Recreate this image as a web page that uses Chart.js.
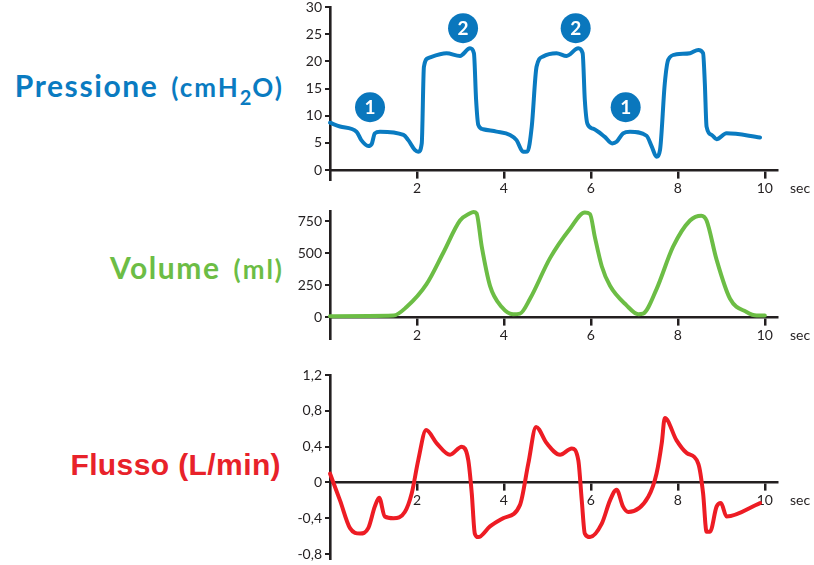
<!DOCTYPE html>
<html>
<head>
<meta charset="utf-8">
<script src="https://cdn.jsdelivr.net/npm/chart.js@4.4.0/dist/chart.umd.min.js"></script>
<style>
  html, body { margin:0; padding:0; background:#fff; }
  #wrap { position:relative; width:814px; height:565px; overflow:hidden; background:#fff; }
  canvas { position:absolute; left:0; }
  .ttl { position:absolute; white-space:nowrap; font-weight:700; }
  .lato { font-family:Lato, "Open Sans", sans-serif; font-size:30px; line-height:30px; right:530px; }
  .sm { font-size:26px; letter-spacing:2px; margin-left:4px; }
  .sub { font-size:20px; position:relative; top:8px; letter-spacing:1px; }
  .ar { font-family:"Liberation Sans", Arial, sans-serif; font-size:30px; line-height:30px; right:533px; letter-spacing:0.4px; }
</style>
</head>
<body>
<div id="wrap">
  <div class="ttl lato" style="top:70px;color:#0a7bc1;letter-spacing:1.6px">Pressione <span class="sm">(cmH<span class="sub">2</span>O)</span></div>
  <div class="ttl lato" style="top:252px;color:#6cbd45;letter-spacing:1.6px">Volume <span class="sm">(ml)</span></div>
  <div class="ttl ar" style="top:450px;color:#e8222a">Flusso (L/min)</div>
  <canvas id="c1" width="814" height="210" style="top:-10px"></canvas>
  <canvas id="c2" width="814" height="150" style="top:200px"></canvas>
  <canvas id="c3" width="814" height="210" style="top:360px"></canvas>
</div>
<script>
// ---------- data ----------
const xTicks = [2, 4, 6, 8, 10];
const xLabels = ['2', '4', '6', '8', '10'];
const xUnit = 'sec';

const pressTicks = [0, 5, 10, 15, 20, 25, 30];
const pressLabels = ['0', '5', '10', '15', '20', '25', '30'];
const pressT = [0,0.23,0.61,0.72,0.88,0.96,1.03,1.15,1.69,1.8,1.95,2.03,2.11,2.16,2.26,2.68,2.99,3.22,3.31,3.36,3.41,3.52,3.83,4.14,4.29,4.44,4.54,4.64,4.75,4.9,5.21,5.44,5.71,5.81,5.86,5.92,6.05,6.32,6.49,6.59,6.74,6.9,7.28,7.4,7.51,7.59,7.7,7.78,7.97,8.28,8.47,8.58,8.62,8.66,8.78,8.89,9.12,9.89];
const pressV = [8.7,8.0,7.06,5.5,4.42,4.8,6.75,7.06,6.45,5.5,3.7,3.37,4.9,19.0,20.6,21.5,21.0,22.4,21.5,12.9,8.3,7.5,7.06,6.45,5.5,3.37,3.4,8.0,19.0,20.9,21.5,21.0,22.4,21.5,12.9,8.5,7.6,6.1,4.9,5.2,6.75,7.06,6.3,4.3,2.45,3.7,16.0,20.3,21.3,21.5,22.1,21.5,16.0,8.0,6.45,5.65,6.75,6.0];
const markerT = [0.92, 3.06, 5.65, 6.80];
const markerV = [11.55, 26.1, 26.1, 11.55];
const markerLabels = ['1', '2', '2', '1'];

const volTicks = [0, 250, 500, 750];
const volLabels = ['0', '250', '500', '750'];
const volT = [0,1.46,1.76,2.22,2.6,2.99,3.22,3.3,3.37,3.49,3.68,3.95,4.21,4.37,4.6,5.06,5.52,5.86,5.98,6.09,6.25,6.44,6.82,7.09,7.2,7.51,7.89,8.28,8.54,8.66,8.89,9.2,9.58,9.81,10.0];
const volV = [10,15,81,259,500,755,812,822,810,551,246,81,25,30,145,462,691,818,805,628,399,246,94,25,30,221,551,755,793,755,450,145,43,15,15];

const flowTicks = [-0.8, -0.4, 0, 0.4, 0.8, 1.2];
const flowLabels = ['-0,8', '-0,4', '0', '0,4', '0,8', '1,2'];
const flowT = [0,0.23,0.46,0.69,0.88,1.03,1.13,1.26,1.46,1.72,1.88,2.03,2.21,2.45,2.76,3.03,3.18,3.26,3.33,3.41,3.68,3.98,4.37,4.56,4.74,4.98,5.29,5.56,5.71,5.79,5.86,5.98,6.25,6.44,6.59,6.74,6.86,7.32,7.51,7.63,7.7,7.97,8.2,8.47,8.58,8.66,8.74,8.89,8.99,9.12,9.89];
const flowV = [0.10,-0.20,-0.51,-0.57,-0.51,-0.27,-0.17,-0.38,-0.40,-0.33,-0.12,0.25,0.585,0.44,0.31,0.40,0.25,-0.12,-0.57,-0.61,-0.49,-0.40,-0.25,0.21,0.62,0.44,0.31,0.38,0.25,-0.20,-0.57,-0.61,-0.46,-0.20,-0.08,-0.27,-0.33,-0.16,0.10,0.44,0.72,0.47,0.33,0.21,-0.12,-0.55,-0.55,-0.27,-0.23,-0.38,-0.23];

// ---------- styling ----------
const AX = '#231f20';
const FONT = 'Lato, "Open Sans", sans-serif';
const pts = (t, v) => t.map((x, i) => ({ x: x, y: v[i] }));

const secPlugin = {
  id: 'secLabel',
  afterDraw(chart) {
    const { ctx, chartArea, scales } = chart;
    const y0 = scales.y.getPixelForValue(0) + 7 + 3 + 8.4;
    ctx.save();
    ctx.font = '14px ' + FONT;
    ctx.fillStyle = AX;
    ctx.textAlign = 'left';
    ctx.textBaseline = 'middle';
    ctx.fillText(xUnit, chartArea.right + 13, y0);
    ctx.restore();
  }
};

const markerPlugin = {
  id: 'markerText',
  afterDatasetsDraw(chart) {
    const meta = chart.getDatasetMeta(1);
    if (!meta || !meta.data) return;
    const ctx = chart.ctx;
    ctx.save();
    ctx.font = 'bold 19px ' + FONT;
    ctx.fillStyle = '#fff';
    ctx.textAlign = 'center';
    ctx.textBaseline = 'middle';
    meta.data.forEach((el, i) => ctx.fillText(markerLabels[i], el.x, el.y + 1));
    ctx.restore();
  }
};

function makeChart(id, datasets, yMin, yMax, yT, yL, pad, plugins) {
  return new Chart(document.getElementById(id), {
    type: 'line',
    data: { datasets: datasets },
    plugins: plugins,
    options: {
      responsive: false,
      animation: false,
      events: [],
      layout: { padding: { left: 0, right: 37, top: pad[0], bottom: pad[1] } },
      plugins: { legend: { display: false }, tooltip: { enabled: false } },
      scales: {
        x: {
          type: 'linear', min: 0, max: 10.28,
          position: { y: 0 },
          afterBuildTicks: s => { s.ticks = xTicks.map(v => ({ value: v })); },
          ticks: {
            color: AX, font: { family: FONT, size: 14 }, padding: 3, maxRotation: 0,
            callback: (v, i) => xLabels[i]
          },
          grid: { drawOnChartArea: false, drawTicks: true, tickLength: 7, color: AX, lineWidth: 2.5 },
          border: { display: true, color: AX, width: 2.6 }
        },
        y: {
          min: yMin, max: yMax,
          afterBuildTicks: s => { s.ticks = yT.map(v => ({ value: v })); },
          afterFit: s => { s.width = 330; },
          ticks: {
            color: AX, font: { family: FONT, size: 14 }, padding: 3,
            callback: (v, i) => yL[i]
          },
          grid: { drawOnChartArea: false, drawTicks: true, tickLength: 5, color: AX, lineWidth: 2 },
          border: { display: true, color: AX, width: 2.6 }
        }
      }
    }
  });
}

function curve(t, v, color) {
  return {
    data: pts(t, v), borderColor: color, borderWidth: 4, pointRadius: 0,
    cubicInterpolationMode: 'monotone', fill: false, clip: false,
    borderCapStyle: 'round', borderJoinStyle: 'round'
  };
}

makeChart('c1', [
  curve(pressT, pressV, '#0a7bc1'),
  {
    data: pts(markerT, markerV), showLine: false, pointRadius: 15,
    pointBackgroundColor: '#0a77bd', pointBorderWidth: 0, pointBorderColor: '#0a77bd', clip: false
  }
], -1.84, 30, pressTicks, pressLabels, [17, 20], [secPlugin, markerPlugin]);

makeChart('c2', [curve(volT, volV, '#6cbd45')], -165, 826, volTicks, volLabels, [9, 11], [secPlugin]);

makeChart('c3', [curve(flowT, flowV, '#ed1c24')], -0.85, 1.2, flowTicks, flowLabels, [15, 11.4], [secPlugin]);
</script>
</body>
</html>
